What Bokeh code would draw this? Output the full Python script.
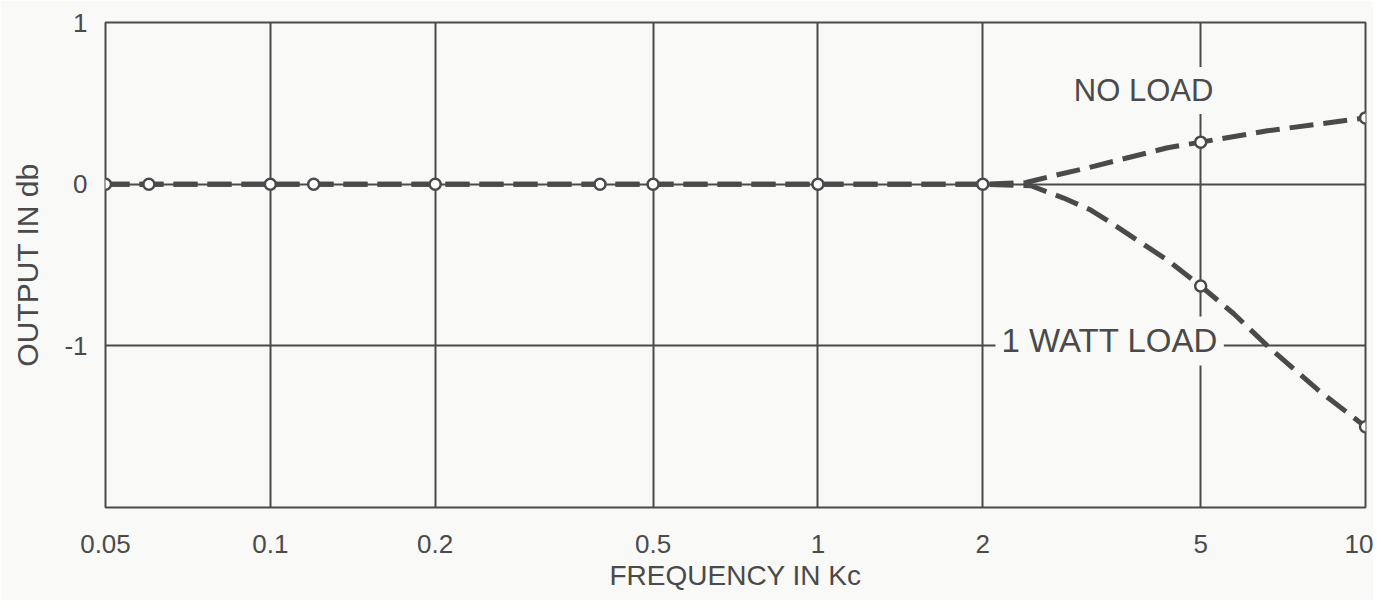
from bokeh.plotting import figure
from bokeh.models import FixedTicker, Label, Range1d
from bokeh.embed import file_html
from bokeh.resources import INLINE

# ---- data ----
x_ticks = [0.05, 0.1, 0.2, 0.5, 1, 2, 5, 10]
x_tick_labels = ["0.05", "0.1", "0.2", "0.5", "1", "2", "5", "10"]
y_ticks = [-2, -1, 0, 1]
y_tick_labels = ["", "-1", "0", "1"]

# measured points (open circles)
flat_freq = [0.05, 0.06, 0.1, 0.12, 0.2, 0.4, 0.5, 1, 2]
flat_db = [0, 0, 0, 0, 0, 0, 0, 0, 0]
noload_pt_freq = [5, 10]
noload_pt_db = [0.26, 0.41]
load_pt_freq = [5, 10]
load_pt_db = [-0.63, -1.5]

# drawn curves (dashed)
noload_freq = [0.05, 0.1, 0.2, 0.5, 1, 2, 2.4, 2.72, 3.1, 3.5, 4.35, 5, 6.62, 10]
noload_db = [0, 0, 0, 0, 0, 0, 0.01, 0.056, 0.10, 0.145, 0.225, 0.26, 0.33, 0.41]
load_freq = [0.05, 0.1, 0.2, 0.5, 1, 2, 2.45, 2.81, 3.15, 3.47, 3.88, 4.35, 5, 5.74, 6.62, 8.17, 10]
load_db = [0, 0, 0, 0, 0, 0, -0.01, -0.086, -0.16, -0.25, -0.36, -0.47, -0.63, -0.80, -1.0, -1.27, -1.5]

INK = "#4a4a4a"
BG = "#f9f9f7"
FONT = "Liberation Sans"

p = figure(width=1373, height=600, x_axis_type="log",
           x_range=Range1d(0.05, 10), y_range=Range1d(-2, 1),
           output_backend="svg", toolbar_location=None,
           min_border_left=105, min_border_right=8,
           min_border_top=22, min_border_bottom=93)

p.background_fill_color = BG
p.border_fill_color = BG
p.outline_line_color = INK
p.outline_line_width = 2

p.xaxis.ticker = FixedTicker(ticks=x_ticks)
p.yaxis.ticker = FixedTicker(ticks=y_ticks)
p.xaxis.major_label_overrides = {t: l for t, l in zip(x_ticks, x_tick_labels)}
p.yaxis.major_label_overrides = {t: l for t, l in zip(y_ticks, y_tick_labels)}

for ax in (p.xaxis[0], p.yaxis[0]):
    ax.axis_line_color = None
    ax.major_tick_line_color = None
    ax.minor_tick_line_color = None
    ax.major_tick_out = 0
    ax.major_tick_in = 0
    ax.minor_tick_out = 0
    ax.minor_tick_in = 0
    ax.major_label_text_font = FONT
    ax.major_label_text_font_size = "26px"
    ax.major_label_text_color = INK
    ax.axis_label_text_font = FONT
    ax.axis_label_text_font_style = "normal"
    ax.axis_label_text_color = INK

p.xaxis.axis_label = "FREQUENCY IN Kc"
p.yaxis.axis_label = "OUTPUT IN db"
p.xaxis.axis_label_text_font_size = "28px"
p.yaxis.axis_label_text_font_size = "30px"
p.xaxis.major_label_standoff = 27
p.xaxis.axis_label_standoff = 4
p.yaxis.major_label_standoff = 18
p.yaxis.axis_label_standoff = 17

p.xgrid.ticker = FixedTicker(ticks=x_ticks)
p.ygrid.ticker = FixedTicker(ticks=y_ticks)
for g in (p.xgrid[0], p.ygrid[0]):
    g.grid_line_color = INK
    g.grid_line_width = 2
    g.grid_line_alpha = 1.0

p.line(noload_freq, noload_db, line_color=INK, line_width=5, line_dash="24 10")
p.line(load_freq, load_db, line_color=INK, line_width=5, line_dash="24 10")

for xs, ys in ((flat_freq, flat_db), (noload_pt_freq, noload_pt_db), (load_pt_freq, load_pt_db)):
    p.scatter(xs, ys, marker="circle", size=11, fill_color="white",
              line_color=INK, line_width=2.5)

lab1 = Label(x=2.86, y=0.58, text="NO LOAD", text_font=FONT, text_font_size="31px",
             text_color=INK, text_baseline="middle", text_align="left",
             background_fill_color=BG, padding=6)
lab2 = Label(x=2.11, y=-0.97, text="1 WATT LOAD", text_font=FONT, text_font_size="33px",
             text_color=INK, text_baseline="middle", text_align="left",
             background_fill_color=BG, padding=6)
p.add_layout(lab1)
p.add_layout(lab2)

open("out.html", "w").write(file_html(p, INLINE))
